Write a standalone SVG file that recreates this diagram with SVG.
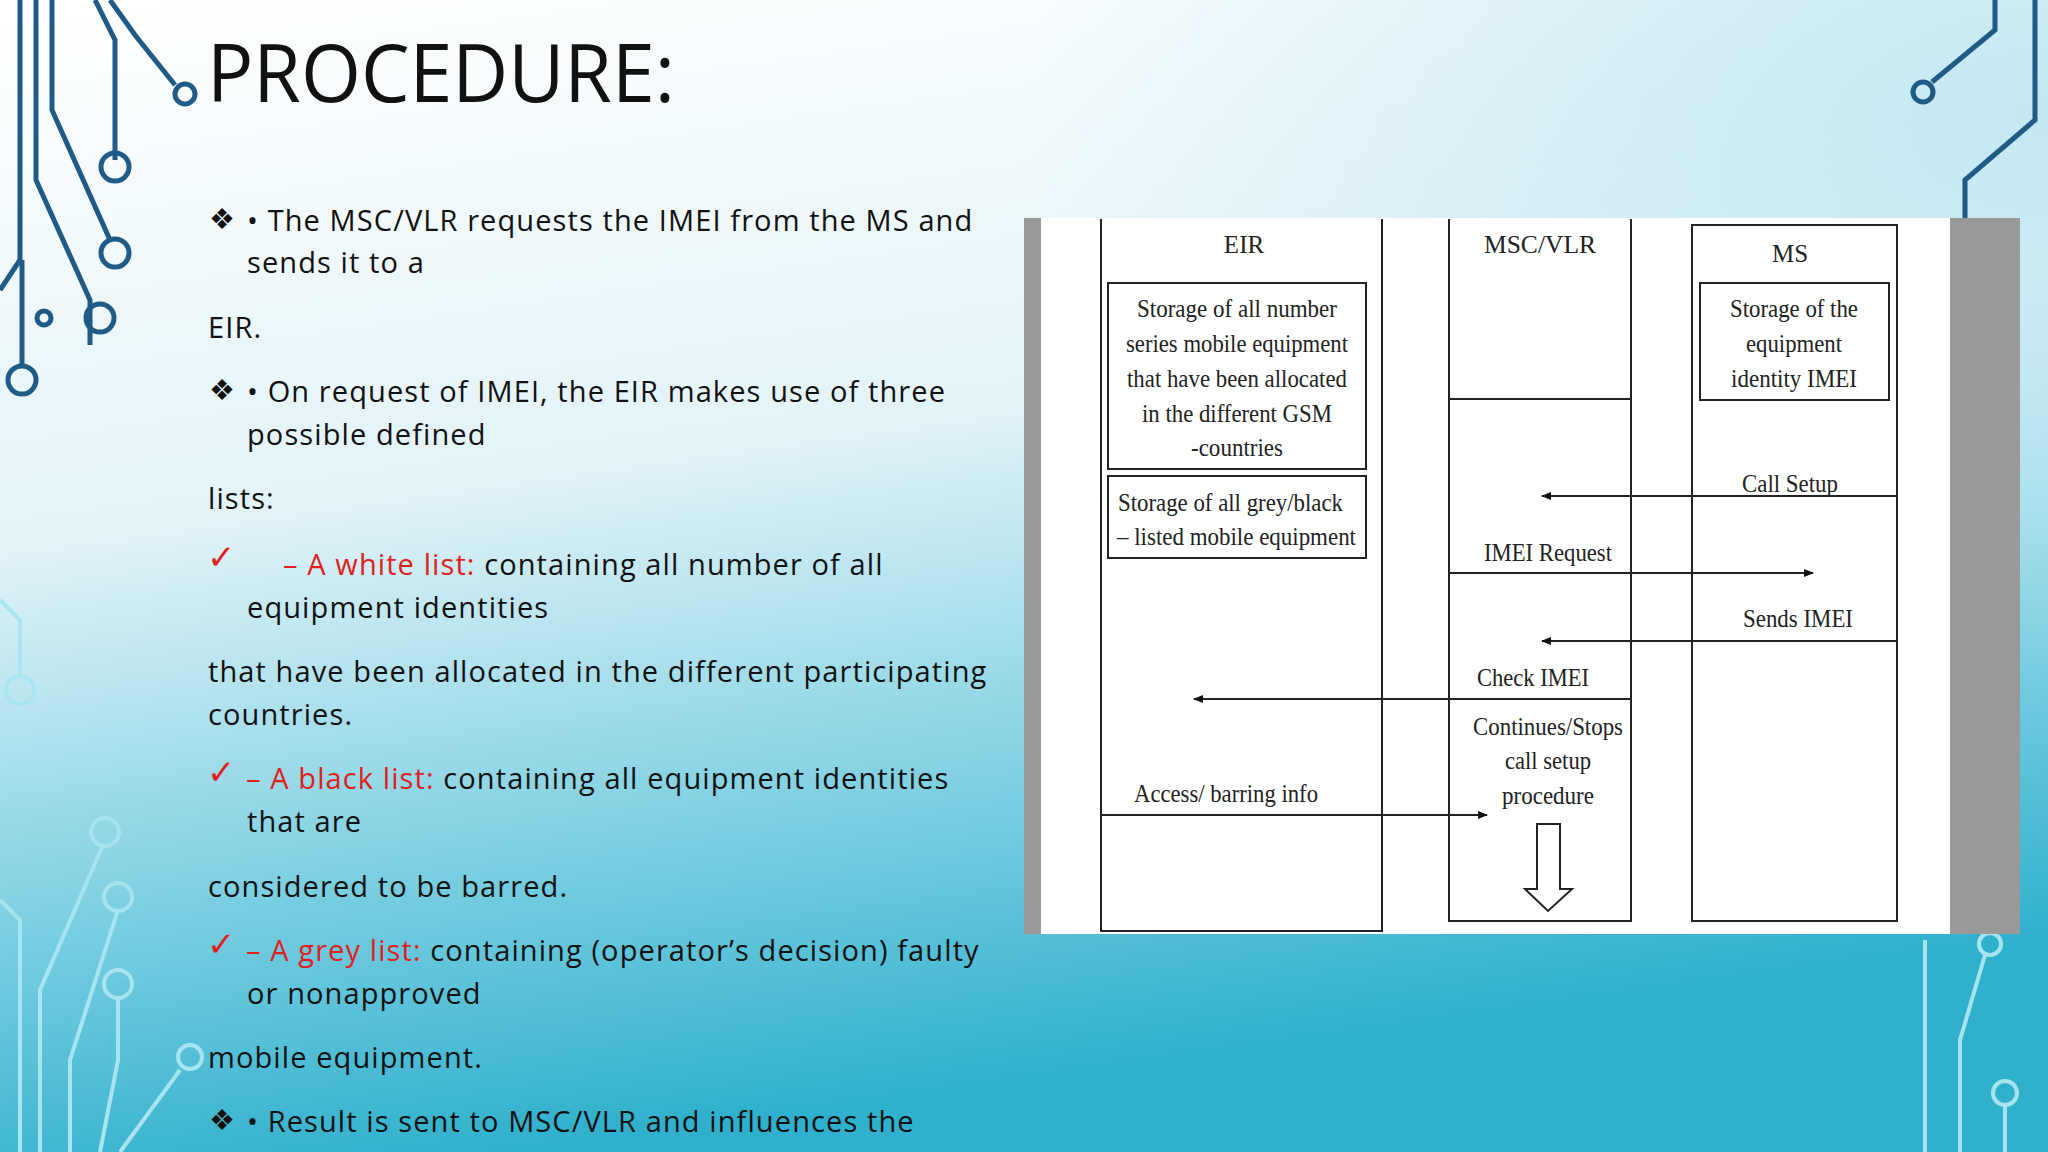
<svg xmlns="http://www.w3.org/2000/svg" width="2048" height="1152" viewBox="0 0 2048 1152">
<defs>
<linearGradient id="bg" x1="0" y1="0" x2="0.25" y2="1">
<stop offset="0" stop-color="#ffffff"/>
<stop offset="0.45" stop-color="#e2f3f8"/>
<stop offset="0.75" stop-color="#7fd0e2"/>
<stop offset="1" stop-color="#2fb0cc"/>
</linearGradient>
<radialGradient id="rt" cx="1" cy="0.1" r="0.5">
<stop offset="0" stop-color="#bfe6f2" stop-opacity="0.9"/>
<stop offset="1" stop-color="#bfe6f2" stop-opacity="0"/>
</radialGradient>
<marker id="ah" markerWidth="10" markerHeight="8" refX="9" refY="4" orient="auto" markerUnits="userSpaceOnUse">
<path d="M0,0 L10,4 L0,8 Z" fill="#111"/>
</marker>
<style>
.body{font-family:"Open Sans","Liberation Sans",sans-serif;font-size:29px;fill:#111;letter-spacing:1.1px}
.red{fill:#e0201c}
.chk{font-family:"DejaVu Sans",sans-serif;font-size:34px;fill:#e0201c}
.d{font-family:"Liberation Serif",serif;font-size:25px;fill:#222}
.c{text-anchor:middle}
.ln{stroke:#222;stroke-width:2;fill:none}
.dk{stroke:#1f5b86;stroke-width:5;fill:none}
.lt{stroke:#a8e4ef;stroke-width:4;fill:none}
</style>
</defs>
<rect width="2048" height="1152" fill="url(#bg)"/>
<rect width="2048" height="1152" fill="url(#rt)"/>
<g id="circuits">
<path class="dk" d="M20,0 V260"/><path class="dk" d="M36,0 V180 L90,300 V345"/>
<path class="dk" d="M52,0 V110 L110,240"/><path class="dk" d="M95,0 L115,40 V160"/>
<path class="dk" d="M110,0 L135,35 L175,85"/><path class="dk" d="M20,260 L0,290"/>
<circle class="dk" cx="185" cy="94" r="10"/><circle class="dk" cx="115" cy="167" r="14"/>
<circle class="dk" cx="115" cy="253" r="14"/><circle class="dk" cx="100" cy="318" r="14"/>
<circle class="dk" cx="22" cy="380" r="14"/><path class="dk" d="M22,260 V366"/><circle class="dk" cx="44" cy="318" r="7"/>
<path class="dk" d="M2035,0 V120 L1965,180 V218"/><path class="dk" d="M1995,0 V30 L1932,82"/>
<circle class="dk" cx="1923" cy="92" r="10"/>
<path class="lt" d="M0,600 L20,620 V675"/><circle class="lt" cx="20" cy="690" r="14"/>
<path class="lt" d="M0,900 L20,920 V1152"/><path class="lt" d="M40,1152 V990 L103,845"/><circle class="lt" cx="105" cy="832" r="14"/>
<path class="lt" d="M70,1152 V1060 L118,910"/><circle class="lt" cx="118" cy="897" r="14"/>
<path class="lt" d="M100,1152 L118,1060 V997"/><circle class="lt" cx="118" cy="984" r="14"/>
<path class="lt" d="M120,1152 L180,1070"/><circle class="lt" cx="190" cy="1057" r="12"/>
<path class="lt" d="M1925,1152 V940"/><path class="lt" d="M1960,1152 V1040 L1985,955"/><circle class="lt" cx="1990" cy="944" r="11"/>
<path class="lt" d="M2005,1152 V1105"/><circle class="lt" cx="2005" cy="1093" r="12"/>
</g>
<text x="207" y="102" font-family="'Open Sans','Liberation Sans',sans-serif" font-size="80" fill="#111" textLength="468" lengthAdjust="spacingAndGlyphs">PROCEDURE:</text>
<g id="bullets">
<text x="209" y="229" class="body">❖</text><text x="247" y="231" class="body">• The MSC/VLR requests the IMEI from the MS and</text>
<text x="247" y="273" class="body">sends it to a</text>
<text x="208" y="338" class="body">EIR.</text>
<text x="209" y="400" class="body">❖</text><text x="247" y="402" class="body">• On request of IMEI, the EIR makes use of three</text>
<text x="247" y="445" class="body">possible defined</text>
<text x="208" y="509" class="body">lists:</text>
<text x="207" y="569" class="chk">✓</text>
<text x="283" y="575" class="body"><tspan class="red">– A white list:</tspan> containing all number of all</text>
<text x="247" y="618" class="body">equipment identities</text>
<text x="208" y="682" class="body">that have been allocated in the different participating</text>
<text x="208" y="725" class="body">countries.</text>
<text x="207" y="784" class="chk">✓</text>
<text x="246" y="789" class="body"><tspan class="red">– A black list:</tspan> containing all equipment identities</text>
<text x="247" y="832" class="body">that are</text>
<text x="208" y="897" class="body">considered to be barred.</text>
<text x="207" y="956" class="chk">✓</text>
<text x="246" y="961" class="body"><tspan class="red">– A grey list:</tspan> containing (operator’s decision) faulty</text>
<text x="247" y="1004" class="body">or nonapproved</text>
<text x="208" y="1068" class="body">mobile equipment.</text>
<text x="209" y="1130" class="body">❖</text><text x="247" y="1132" class="body">• Result is sent to MSC/VLR and influences the</text>
</g>
<rect x="1024" y="218" width="996" height="716" fill="#ffffff"/>
<rect x="1024" y="218" width="17" height="716" fill="#999"/>
<rect x="1950" y="218" width="70" height="716" fill="#999"/>
<g id="EIR">
<path class="ln" d="M1101,219 V931 H1382 V219"/>
<text x="1244" y="253" class="d c">EIR</text>
</g>
<g id="EIR-store1">
<rect class="ln" x="1108" y="283" width="258" height="186" stroke-width="3"/>
<text x="1237" y="317" class="d c" textLength="200" lengthAdjust="spacingAndGlyphs">Storage of all number</text>
<text x="1237" y="352" class="d c" textLength="222" lengthAdjust="spacingAndGlyphs">series mobile equipment</text>
<text x="1237" y="387" class="d c" textLength="220" lengthAdjust="spacingAndGlyphs">that have been allocated</text>
<text x="1237" y="422" class="d c" textLength="190" lengthAdjust="spacingAndGlyphs">in the different GSM</text>
<text x="1237" y="456" class="d c" textLength="92" lengthAdjust="spacingAndGlyphs">-countries</text>
</g>
<g id="EIR-store2">
<rect class="ln" x="1108" y="476" width="258" height="82" stroke-width="3"/>
<text x="1118" y="511" class="d" textLength="225" lengthAdjust="spacingAndGlyphs">Storage of all grey/black</text>
<text x="1117" y="545" class="d" textLength="239" lengthAdjust="spacingAndGlyphs">– listed mobile equipment</text>
</g>
<g id="MSC">
<path class="ln" d="M1449,219 V921 H1631 V219 M1449,399 H1631"/>
<text x="1540" y="253" class="d c" textLength="112" lengthAdjust="spacingAndGlyphs">MSC/VLR</text>
</g>
<g id="MS">
<rect class="ln" x="1692" y="225" width="205" height="696"/>
<text x="1790" y="262" class="d c">MS</text>
<rect class="ln" x="1700" y="283" width="189" height="117" stroke-width="3"/>
<text x="1794" y="317" class="d c" textLength="128" lengthAdjust="spacingAndGlyphs">Storage of the</text>
<text x="1794" y="352" class="d c" textLength="96" lengthAdjust="spacingAndGlyphs">equipment</text>
<text x="1794" y="387" class="d c" textLength="126" lengthAdjust="spacingAndGlyphs">identity IMEI</text>
</g>
<g id="connectors">
<line class="ln" x1="1897" y1="496" x2="1542" y2="496" marker-end="url(#ah)"/>
<text x="1790" y="492" class="d c" textLength="96" lengthAdjust="spacingAndGlyphs">Call Setup</text>
<line class="ln" x1="1449" y1="573" x2="1813" y2="573" marker-end="url(#ah)"/>
<text x="1548" y="561" class="d c" textLength="128" lengthAdjust="spacingAndGlyphs">IMEI Request</text>
<line class="ln" x1="1897" y1="641" x2="1542" y2="641" marker-end="url(#ah)"/>
<text x="1798" y="627" class="d c" textLength="110" lengthAdjust="spacingAndGlyphs">Sends IMEI</text>
<line class="ln" x1="1631" y1="699" x2="1194" y2="699" marker-end="url(#ah)"/>
<text x="1533" y="686" class="d c" textLength="112" lengthAdjust="spacingAndGlyphs">Check IMEI</text>
<text x="1548" y="735" class="d c" textLength="150" lengthAdjust="spacingAndGlyphs">Continues/Stops</text>
<text x="1548" y="769" class="d c" textLength="86" lengthAdjust="spacingAndGlyphs">call setup</text>
<text x="1548" y="804" class="d c" textLength="92" lengthAdjust="spacingAndGlyphs">procedure</text>
<line class="ln" x1="1101" y1="815" x2="1487" y2="815" marker-end="url(#ah)"/>
<text x="1226" y="802" class="d c" textLength="184" lengthAdjust="spacingAndGlyphs">Access/ barring info</text>
<path class="ln" d="M1537,824 H1560 V889 H1572 L1548,911 L1525,889 H1537 Z" fill="#fff"/>
</g>
</svg>
